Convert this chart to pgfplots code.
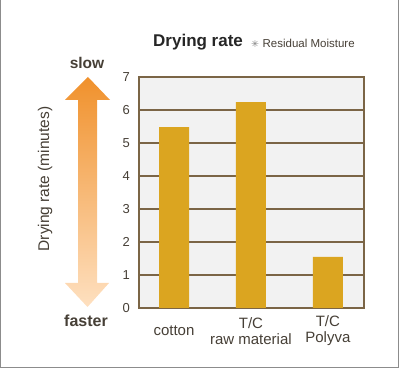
\documentclass[border=0pt]{standalone}
\usepackage{fontspec}
\setmainfont{Liberation Sans}
\newfontfamily\dejavu{DejaVu Sans}
\usepackage{pgfplots}
\pgfplotsset{compat=1.18}
\definecolor{frame}{HTML}{7B6546}
\definecolor{bar}{HTML}{DBA520}
\definecolor{txt}{HTML}{463F36}
\definecolor{arrtop}{HTML}{F0912C}
\definecolor{arrbot}{HTML}{FEE0C0}
\begin{document}
\begin{tikzpicture}[x=1pt,y=1pt]
\path[use as bounding box] (0,0) rectangle (400,369);
\draw[color=gray!90, line width=1.2pt] (0.6,369) -- (0.6,1.6) -- (398.4,1.6) -- (398.4,369);
% arrow (pixel y -> 369 - y)
\shade[top color=arrtop, bottom color=arrbot]
  (88,292) -- (65,269) -- (78,269) -- (78,86) -- (65,86) -- (87.5,62) -- (109,86) -- (97,86) -- (97,269) -- (110,269) -- cycle;
\node[font=\fontsize{15.5}{18}\selectfont\bfseries, text=txt] at (87,306) {slow};
\node[font=\fontsize{16}{18}\selectfont\bfseries, text=txt] at (86,48) {faster};
\node[font=\fontsize{15.5}{17}\selectfont, text=txt, rotate=90] at (45,190) {Drying rate (minutes)};
\node[font=\fontsize{17}{20}\selectfont\bfseries, text=black!85, anchor=base west, inner sep=0pt] at (153,322) {Drying rate};
\node[font=\fontsize{11.5}{13}\selectfont, text=txt, anchor=base west, inner sep=0pt] at (251,321) {{\dejavu\fontsize{9.5}{10}\selectfont\color{gray}\raisebox{0.5pt}{✳}}\kern3.5pt Residual Moisture};
\begin{axis}[
  at={(139pt,61pt)}, anchor=south west,
  scale only axis, width=225pt, height=231pt,
  xmin=-0.455, xmax=2.47, ymin=0, ymax=7,
  ytick={0,1,2,3,4,5,6,7},
  xtick={0,1,2},
  xticklabels={cotton,{T/C\\raw material},{T/C\\Polyva}},
  major tick length=0pt,
  axis background/.style={fill=black!5},
  axis line style={draw=frame, line width=1.4pt},
  ymajorgrids,
  grid style={draw=frame, line width=1.3pt},
  /pgf/number format/assume math mode=true,
  yticklabel style={font=\fontsize{13}{14}\selectfont, text=txt, anchor=east, inner sep=0pt, xshift=-9pt},
  xticklabel style={font=\fontsize{15}{16}\selectfont, text=txt, anchor=center, inner sep=0pt, yshift=-23pt, align=center},
  ybar, bar width=30pt,
]
\addplot[fill=bar, draw=none] coordinates {(0,5.48) (1,6.24) (2,1.55)};
\end{axis}
\end{tikzpicture}
\end{document}
